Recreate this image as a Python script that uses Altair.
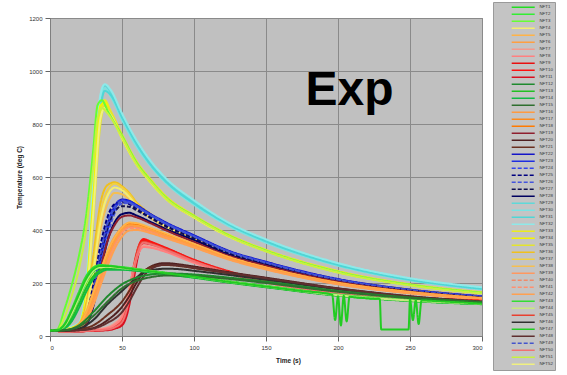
import altair as alt
import pandas as pd

# ---------------- time grids (s) ----------------
T_A = [0, 10, 20, 25, 30, 35, 38, 42, 50, 60, 70, 80, 100, 125, 150, 200, 250, 300]
T_L = [0, 5, 10, 15, 20, 25, 30, 33, 36, 40, 50, 60, 70, 80, 100, 125, 150, 200, 250, 300]
T_G = [0, 10, 20, 25, 30, 35, 40, 45, 50, 55, 60, 70, 80, 100, 125, 150, 200, 250, 300]
T_R = [0, 10, 20, 30, 40, 45, 50, 55, 58, 62, 65, 70, 80, 100, 125, 150, 200, 250, 300]
T_B = [0, 10, 20, 30, 40, 50, 55, 60, 65, 70, 75, 80, 90, 100, 125, 150, 200, 250, 300]
T_P = [0, 5, 10, 15, 20, 25, 30, 35, 40, 50, 60, 70, 80, 100, 125, 150, 200, 250, 300]
T_D = [0, 10, 20, 30, 40, 50, 60, 70, 80, 90, 100, 125, 150, 200, 250, 300]
T_W = [0, 5, 10, 15, 20, 25, 30, 35, 40, 50, 60, 70, 80, 100, 125, 150, 175, 196, 198, 200,
       202, 204, 206, 208, 210, 225, 229, 230, 249, 250, 252, 254, 256, 258, 270, 300]

# ---------------- temperatures (deg C) ----------------
CYAN = {
    "NFT29": [20, 25, 40, 150, 500, 880, 945, 920, 830, 730, 650, 590, 505, 420, 360, 270, 215, 180],
    "NFT30": [20, 25, 45, 170, 540, 900, 935, 905, 815, 715, 640, 580, 495, 412, 352, 265, 210, 176],
    "NFT31": [20, 25, 35, 130, 460, 850, 925, 910, 825, 725, 645, 585, 500, 418, 357, 268, 212, 178],
    "NFT32": [20, 28, 50, 190, 580, 910, 950, 930, 840, 740, 660, 598, 512, 425, 365, 275, 218, 184],
    "NFT33": [20, 25, 40, 140, 480, 840, 890, 850, 760, 660, 590, 530, 455, 380, 325, 245, 195, 165],
    "NFT34": [20, 25, 45, 160, 520, 870, 880, 840, 745, 648, 578, 520, 447, 373, 320, 240, 192, 162],
    "NFT35": [20, 24, 35, 120, 440, 800, 870, 845, 755, 655, 585, 525, 450, 376, 322, 242, 193, 163],
    "NFT52": [20, 24, 38, 130, 460, 820, 860, 835, 748, 650, 580, 522, 448, 374, 321, 241, 192, 162],
}
LIME = {
    "NFT3":  [20, 25, 100, 190, 300, 450, 700, 870, 890, 850, 755, 655, 585, 525, 452, 377, 322, 242, 193, 163],
    "NFT51": [20, 22, 70, 150, 250, 400, 640, 820, 860, 840, 750, 650, 582, 522, 450, 375, 320, 240, 191, 161],
}
MID = {
    "NFT36": [20, 22, 40, 120, 300, 500, 570, 580, 565, 540, 505, 460, 425, 370, 315, 275, 212, 176, 151],
    "NFT37": [20, 22, 35, 100, 260, 460, 550, 575, 560, 535, 500, 455, 420, 366, 312, 272, 210, 174, 149],
    "NFT38": [20, 22, 30, 80, 220, 400, 500, 540, 535, 515, 485, 445, 410, 358, 306, 268, 207, 171, 147],
    "NFT4":  [20, 22, 32, 90, 240, 430, 530, 560, 550, 525, 492, 450, 415, 362, 309, 270, 208, 172, 148],
    "NFT22": [20, 20, 25, 50, 150, 300, 420, 490, 515, 510, 495, 460, 430, 380, 320, 280, 215, 175, 150],
    "NFT23": [20, 20, 25, 45, 130, 280, 400, 480, 510, 508, 492, 458, 428, 378, 318, 278, 213, 174, 149],
    "NFT24": [20, 20, 28, 60, 170, 320, 440, 495, 512, 505, 490, 455, 425, 375, 316, 276, 212, 173, 148],
    "NFT25": [20, 20, 30, 70, 190, 340, 450, 498, 505, 498, 482, 448, 418, 370, 312, 273, 210, 172, 147],
    "NFT26": [20, 20, 24, 40, 120, 260, 380, 465, 500, 502, 488, 454, 424, 374, 315, 275, 211, 172, 147],
    "NFT27": [20, 20, 26, 55, 160, 300, 410, 470, 490, 488, 475, 445, 415, 368, 310, 272, 209, 171, 146],
    "NFT28": [20, 20, 24, 40, 110, 240, 360, 430, 460, 465, 455, 430, 405, 362, 306, 268, 206, 169, 145],
    "NFT49": [20, 20, 27, 58, 165, 310, 425, 485, 508, 503, 489, 456, 426, 376, 317, 277, 212, 173, 148],
    "NFT19": [20, 20, 25, 45, 120, 250, 360, 420, 450, 455, 448, 425, 400, 355, 302, 265, 205, 168, 144],
    "NFT17": [20, 20, 40, 80, 150, 230, 310, 370, 410, 425, 422, 405, 385, 345, 295, 258, 200, 165, 142],
    "NFT18": [20, 20, 35, 70, 135, 215, 295, 360, 405, 422, 420, 403, 383, 343, 293, 256, 199, 164, 141],
    "NFT16": [20, 20, 45, 90, 165, 245, 320, 375, 405, 415, 412, 398, 378, 340, 292, 255, 198, 163, 140],
    "NFT39": [20, 20, 30, 60, 120, 200, 280, 345, 390, 410, 410, 395, 376, 338, 290, 254, 197, 162, 140],
    "NFT40": [20, 20, 38, 75, 140, 220, 300, 360, 398, 412, 410, 396, 377, 339, 291, 255, 198, 163, 141],
    "NFT41": [20, 20, 32, 65, 125, 205, 285, 350, 392, 408, 407, 393, 375, 337, 289, 253, 196, 162, 140],
    "NFT5":  [20, 20, 42, 85, 160, 240, 318, 372, 408, 428, 426, 408, 388, 348, 297, 259, 201, 166, 143],
    "NFT6":  [20, 20, 36, 72, 138, 218, 298, 358, 400, 418, 416, 400, 380, 341, 292, 256, 198, 163, 141],
    "NFT42": [20, 20, 30, 58, 115, 190, 265, 330, 375, 398, 400, 388, 370, 334, 287, 251, 195, 161, 139],
}
RED = {
    "NFT9":  [20, 18, 18, 20, 24, 30, 45, 130, 230, 335, 360, 352, 332, 286, 240, 205, 165, 145, 132],
    "NFT10": [20, 18, 18, 20, 26, 34, 55, 150, 250, 345, 366, 356, 334, 288, 243, 208, 167, 146, 133],
    "NFT11": [20, 18, 18, 20, 22, 28, 40, 115, 210, 320, 350, 346, 328, 283, 238, 204, 164, 144, 131],
    "NFT45": [20, 18, 20, 22, 28, 38, 65, 165, 260, 342, 356, 349, 329, 284, 240, 206, 166, 145, 132],
    "NFT7":  [20, 18, 20, 24, 33, 48, 80, 180, 255, 325, 342, 336, 321, 278, 235, 202, 163, 143, 130],
    "NFT8":  [20, 18, 19, 22, 29, 42, 72, 170, 250, 318, 336, 333, 318, 276, 234, 201, 162, 142, 130],
    "NFT50": [20, 18, 19, 21, 25, 33, 52, 140, 238, 330, 352, 346, 326, 282, 237, 203, 163, 143, 131],
}
BROWN = {
    "NFT20": [20, 20, 22, 30, 60, 110, 150, 200, 240, 262, 272, 275, 270, 262, 240, 220, 180, 150, 130],
    "NFT21": [20, 20, 25, 40, 80, 130, 170, 215, 245, 260, 266, 268, 264, 256, 236, 216, 178, 148, 128],
    "NFT46": [20, 20, 28, 60, 120, 170, 195, 220, 238, 248, 252, 254, 252, 246, 230, 212, 176, 147, 127],
    "NFT48": [20, 20, 22, 28, 50, 90, 130, 180, 225, 252, 265, 270, 266, 258, 238, 218, 179, 149, 129],
}
GREEN = {
    "NFT1":  [20, 22, 40, 90, 150, 210, 250, 262, 262, 258, 252, 245, 238, 225, 205, 188, 155, 135, 122],
    "NFT2":  [20, 22, 35, 80, 140, 200, 242, 258, 260, 255, 250, 243, 236, 223, 203, 186, 153, 133, 121],
    "NFT13": [20, 21, 30, 65, 120, 180, 225, 248, 255, 252, 247, 240, 233, 220, 201, 184, 152, 132, 120],
    "NFT14": [20, 21, 28, 55, 105, 165, 215, 240, 250, 250, 246, 240, 233, 221, 202, 185, 153, 133, 121],
    "NFT43": [20, 23, 45, 100, 165, 225, 258, 268, 266, 260, 253, 246, 239, 226, 206, 189, 156, 136, 123],
    "NFT44": [20, 22, 38, 85, 145, 205, 246, 260, 261, 256, 251, 244, 237, 224, 204, 187, 154, 134, 122],
}
DARKGREEN = {
    "NFT12": [20, 22, 40, 90, 150, 195, 220, 232, 236, 235, 232, 220, 205, 170, 145, 128],
    "NFT15": [20, 22, 35, 75, 130, 180, 208, 222, 228, 228, 226, 215, 200, 167, 143, 126],
}
DIPS = {
    "NFT47": [20, 22, 42, 95, 155, 215, 252, 264, 264, 258, 251, 244, 237, 224, 204, 187, 170, 156,
              60, 150, 40, 152, 55, 148, 147, 141, 140, 25, 25, 138, 60, 135, 45, 134, 131, 122],
}

# ---------------- legend order, colours, dashes ----------------
SERIES = [f"NFT{i}" for i in range(1, 53)]
COLORS = ["#22dd22", "#33ee33", "#66ff33", "#f4ee70", "#ffb347", "#ff9f40", "#f39a8f", "#ff8080",
          "#e81010", "#ff1010", "#d81020", "#1f8a2e", "#22c022", "#11bb44", "#2f6f2f",
          "#ff9a40", "#ff8a1a", "#ff7a00", "#8f1f2f", "#4f1f1f", "#6a2f1f",
          "#1414c8", "#1f2fe0", "#3344ee", "#000080", "#4455dd", "#101050", "#00005f",
          "#5fd9d9", "#7ae3e3", "#4fd6d6", "#8ee9e9",
          "#ecec1c", "#f4f400", "#e4e42c", "#f0c01c", "#f2d040", "#f5bf50",
          "#ff9860", "#f08a6a", "#ff9070", "#ffa050", "#33dd33", "#c8e880",
          "#e84030", "#303030", "#22cc22", "#5f2f2f", "#4455cc", "#f07070", "#c8f040", "#f0f080"]
DASHED = {"NFT24", "NFT25", "NFT26", "NFT27", "NFT40", "NFT41", "NFT49"}
DASHES = [[4, 2] if s in DASHED else [1, 0] for s in SERIES]

Y_TICKS = [0, 200, 400, 600, 800, 1000, 1200]
X_TICKS = [0, 50, 100, 150, 200, 250, 300]

rows = []
for grid, group in [(T_A, CYAN), (T_L, LIME), (T_G, MID), (T_R, RED), (T_B, BROWN),
                    (T_P, GREEN), (T_D, DARKGREEN), (T_W, DIPS)]:
    for name, vals in group.items():
        for t, v in zip(grid, vals):
            rows.append({"series": name, "time": t, "temp": v, "ord": SERIES.index(name)})
df = pd.DataFrame(rows)

legend = alt.Legend(orient="none", legendX=443, legendY=-16, title=None,
                    fillColor="#c4c4c4", strokeColor="#9a9a9a", padding=2,
                    symbolType="M-11.5,0H11.5", symbolSize=4, symbolStrokeWidth=1.5,
                    symbolOffset=26, labelFontSize=4.4, labelColor="#333333",
                    labelFont="Liberation Sans", labelOffset=14, rowPadding=0,
                    clipHeight=6.5, symbolLimit=60)

x = alt.X("time:Q", scale=alt.Scale(domain=[0, 300], nice=False),
          axis=alt.Axis(values=X_TICKS, format="d", title="Time (s)", titleX=238))
y = alt.Y("temp:Q", scale=alt.Scale(domain=[0, 1200], nice=False),
          axis=alt.Axis(values=Y_TICKS, format="d", title="Temperature (deg C)"))

lines = alt.Chart(df).mark_line(strokeWidth=2, interpolate="monotone", clip=True).encode(
    x=x, y=y,
    color=alt.Color("series:N", scale=alt.Scale(domain=SERIES, range=COLORS), legend=legend),
    strokeDash=alt.StrokeDash("series:N", scale=alt.Scale(domain=SERIES, range=DASHES), legend=legend),
    order="ord:Q",
)

label_df = pd.DataFrame({"time": [208], "temp": [872], "label": ["Exp"]})
label = alt.Chart(label_df).mark_text(fontSize=48, fontWeight="bold", font="Liberation Sans",
                                      align="center", baseline="alphabetic", color="black").encode(
    x="time:Q", y="temp:Q", text="label:N")

chart = alt.layer(lines, label).properties(
    width=432, height=318,
    padding={"left": 50, "top": 18, "right": 85, "bottom": 39},
    autosize=alt.AutoSizeParams(type="none"),
    background="white",
).configure_view(
    fill="#c0c0c0", stroke="#7f7f7f", strokeWidth=1
).configure_axis(
    labelFont="Liberation Sans", labelFontSize=6, labelColor="#333333",
    titleFont="Liberation Sans", titleFontSize=6.5, titleFontWeight="bold", titleColor="#222222",
    tickSize=5, tickColor="#666666", domainColor="#7f7f7f", gridColor="#8a8a8a", gridWidth=1,
    labelPadding=3,
).configure_axisX(titlePadding=7).configure_axisY(titlePadding=6)

chart.save("out.html", embed_options={"renderer": "svg", "actions": False})
